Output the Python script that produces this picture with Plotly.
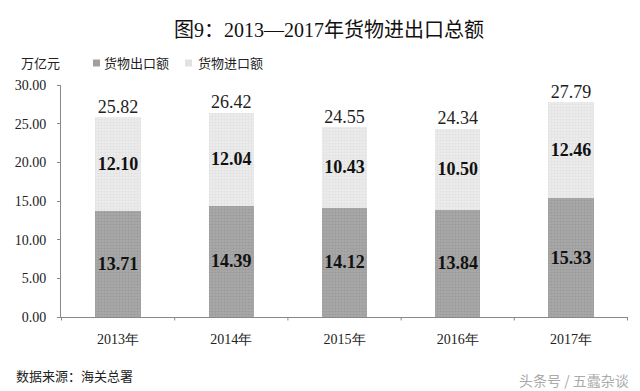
import plotly.graph_objects as go

years = ["2013年", "2014年", "2015年", "2016年", "2017年"]
exports = [13.71, 14.39, 14.12, 13.84, 15.33]
imports = [12.10, 12.04, 10.43, 10.50, 12.46]
totals = [25.82, 26.42, 24.55, 24.34, 27.79]
y_ticks = [0, 5, 10, 15, 20, 25, 30]
series_names = ["货物出口额", "货物进口额"]

serif = "Liberation Serif, Times New Roman, serif"
cjk = "Noto Sans CJK SC"
title_font = "Liberation Serif, Noto Sans CJK SC"
export_color, export_dots = "#a9a9a9", "#8c8c8c"
import_color, import_dots = "#ececec", "#d6d6d6"

W, H = 640, 391
pl, pr, pt, pb = 61, 12, 85, 74
pw, ph = W - pl - pr, H - pt - pb


def px(x):
    return (x - pl) / pw


def py(y):
    return (H - pb - y) / ph


fig = go.Figure()
for vals, name, col, dots in [(exports, series_names[0], export_color, export_dots),
                              (imports, series_names[1], import_color, import_dots)]:
    fig.add_trace(go.Bar(
        x=years, y=vals, name=name,
        marker=dict(color=col, line=dict(width=0),
                    pattern=dict(shape=".", fgcolor=dots, size=3, solidity=0.4)),
        text=[f"{v:.2f}" for v in vals], texttemplate="<b>%{text}</b>",
        textposition="inside", insidetextanchor="middle",
        textangle=0, constraintext="none",
        textfont=dict(family=serif, size=18, color="#111111"),
        width=0.4,
    ))
fig.add_trace(go.Scatter(
    x=years, y=totals, mode="text", showlegend=False,
    text=[f"{v:.2f}" for v in totals], textposition="top center",
    textfont=dict(family=serif, size=18, color="#222222"),
))

fig.update_layout(
    width=W, height=H,
    barmode="stack",
    paper_bgcolor="white", plot_bgcolor="white",
    margin=dict(l=pl, r=pr, t=pt, b=pb, autoexpand=False),
    title=dict(text="图9：2013—2017年货物进出口总额", x=329 / W, xanchor="center",
               y=1 - 30 / H, yanchor="middle",
               font=dict(family=title_font, size=20, color="#111111")),
    showlegend=False,
    xaxis=dict(showline=True, linecolor="#888888", linewidth=1,
               ticks="", ticklabelstandoff=9,
               tickfont=dict(family=serif, size=14, color="#222222"),
               showgrid=False),
    yaxis=dict(range=[0, 30], tickvals=y_ticks, tickformat=".2f",
               showline=True, linecolor="#888888", linewidth=1,
               ticks="outside", ticklen=3, tickcolor="#888888",
               ticklabelstandoff=8,
               tickfont=dict(family=serif, size=14, color="#222222"),
               showgrid=False, zeroline=False),
)

# text annotations placed in pixel positions
for text, x, y, anchor, color, size in [
    ("万亿元", 19, 63, "left", "#222222", 13),
    ("数据来源：海关总署", 14, 375, "left", "#222222", 13),
    ("头条号 / 五蠹杂谈", 631, 380, "right", "#aaaaaa", 14),
    (series_names[0], 102, 63, "left", "#222222", 13),
    (series_names[1], 196, 63, "left", "#222222", 13),
]:
    fig.add_annotation(text=text, x=px(x), y=py(y), xref="paper", yref="paper",
                       showarrow=False, xanchor=anchor, yanchor="middle",
                       font=dict(family=cjk, size=size, color=color))

# legend swatches
for x0, col in [(93, "#a0a0a0"), (185, "#e2e2e2")]:
    fig.add_shape(type="rect", xref="paper", yref="paper",
                  x0=px(x0), x1=px(x0 + 7), y0=py(66.5), y1=py(59.5),
                  fillcolor=col, line=dict(width=0))

# category separator ticks on x-axis
for i in range(len(years) + 1):
    fig.add_shape(type="line", xref="x", yref="paper",
                  x0=i - 0.5, x1=i - 0.5, y0=0, y1=-0.015,
                  line=dict(color="#888888", width=1))

fig.write_html("out.html", config={"displayModeBar": False},
               post_script="document.body.style.margin='0';document.body.style.overflow='hidden';")
